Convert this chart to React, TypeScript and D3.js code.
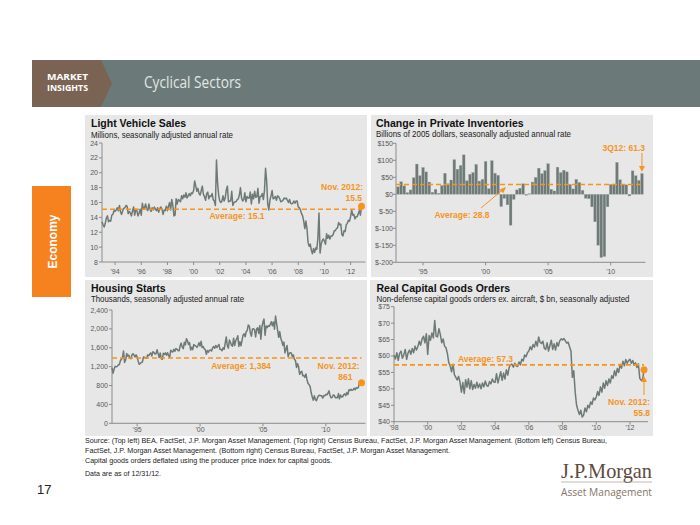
import React from "react";
import * as d3 from "d3";

// ---------- DATA ----------
// Light vehicle sales, millions SAAR, monthly Jan 1993 – Nov 2012
const vehicleSales: number[] = [
  13.4, 13.0, 12.7, 13.2, 13.9, 14.2, 13.4, 13.6, 13.5, 14.3, 14.4, 14.9,
  14.8, 15.0, 15.3, 14.9, 15.6, 14.7, 14.4, 14.9, 15.2, 15.3, 15.6, 15.5,
  14.5, 14.8, 14.6, 14.2, 14.9, 15.4, 14.3, 15.1, 14.9, 14.2, 14.6, 15.1,
  14.3, 15.9, 15.1, 15.3, 15.8, 15.1, 14.9, 15.8, 15.1, 14.8, 15.3, 15.0,
  15.4, 15.1, 14.9, 15.3, 14.7, 15.2, 15.4, 15.1, 14.4, 15.0, 14.9, 15.5,
  14.9, 15.5, 16.0, 15.0, 16.4, 15.6, 14.2, 14.3, 16.5, 15.8, 16.4, 16.3,
  16.1, 16.9, 16.5, 17.0, 16.7, 17.3, 16.6, 16.9, 17.2, 16.9, 17.3, 17.2,
  17.6, 18.9, 18.2, 17.5, 17.9, 17.2, 17.0, 17.6, 18.2, 17.1, 16.8, 16.3,
  17.2, 17.4, 16.5, 16.9, 16.8, 17.2, 16.4, 16.2, 15.6, 21.7, 18.6, 17.0,
  16.2, 16.0, 16.2, 16.9, 16.2, 16.6, 17.7, 18.2, 16.1, 16.2, 16.2, 17.5,
  15.6, 16.0, 16.1, 16.1, 16.4, 16.5, 17.0, 18.0, 16.6, 16.2, 16.4, 17.3,
  16.1, 16.8, 16.6, 16.6, 17.4, 15.8, 17.1, 16.5, 17.5, 16.7, 16.8, 17.9,
  15.9, 16.8, 16.8, 17.2, 16.4, 17.6, 20.6, 18.9, 15.8, 15.0, 16.3, 16.9,
  17.6, 16.5, 16.6, 16.8, 16.3, 16.9, 16.8, 16.5, 16.1, 16.2, 16.3, 16.6,
  16.5, 16.6, 16.3, 16.0, 16.4, 15.9, 15.8, 15.9, 16.2, 15.9, 16.2, 16.2,
  15.4, 15.3, 15.0, 14.5, 14.2, 13.5, 12.5, 13.5, 12.5, 10.6, 10.1, 10.4,
  9.6, 9.1, 9.8, 9.3, 9.9, 9.7, 11.2, 14.6, 9.2, 10.4, 10.9, 11.1,
  10.8, 10.4, 11.8, 11.2, 11.6, 11.1, 11.5, 11.5, 11.7, 12.2, 12.2, 12.5,
  12.6, 13.3, 13.0, 13.1, 11.7, 11.5, 12.2, 12.1, 13.0, 13.2, 13.6, 13.5,
  14.1, 15.0, 14.3, 14.4, 13.8, 14.1, 14.1, 14.5, 14.9, 14.3, 15.5,
];
const vehicleAvg = 15.1;
const vehicleYTicks = [8, 10, 12, 14, 16, 18, 20, 22, 24];
const vehicleXTicks = [1994, 1996, 1998, 2000, 2002, 2004, 2006, 2008, 2010, 2012];

// Change in private inventories, $bn 2005, quarterly 1Q93 – 3Q12
const inventories: number[] = [
  22, 37, 25, 5, 13, 49, 89, 55, 79, 66, 36, 6, 15, 3, 26, 62, 31, 42, 102, 74,
  85, 116, 40, 59, 64, 88, 39, 44, 97, 17, 99, 62, 56, -36, -12, -31, -91, -15, 13, 18,
  31, -3, 2, 36, 50, 77, 61, 70, 90, 15, 10, 80, 64, 71, 66, 29, 16, 44, 35, 12,
  -12, -13, -37, -81, -150, -186, -183, -37, 29, 30, 94, 43, 28, 28, -5, 69, 55, 41, 61.3,
];
const inventoryAvg = 28.8;
const inventoryYTicks = [-200, -150, -100, -50, 0, 50, 100, 150];
const inventoryXTicks = [1995, 2000, 2005, 2010];

// Housing starts, thousands SAAR, monthly Jan 1993 – Nov 2012
const housingStarts: number[] = [
  1177, 1060, 1146, 1206, 1196, 1206, 1235, 1245, 1326, 1356, 1384, 1532,
  1290, 1340, 1478, 1423, 1448, 1385, 1368, 1447, 1474, 1446, 1405, 1451,
  1407, 1316, 1249, 1267, 1290, 1299, 1402, 1400, 1384, 1376, 1450, 1431,
  1467, 1491, 1424, 1516, 1504, 1467, 1472, 1557, 1475, 1392, 1489, 1370,
  1355, 1486, 1457, 1492, 1442, 1494, 1437, 1390, 1546, 1520, 1510, 1566,
  1525, 1584, 1567, 1540, 1536, 1641, 1698, 1614, 1582, 1715, 1660, 1792,
  1748, 1670, 1710, 1553, 1611, 1559, 1669, 1648, 1635, 1608, 1648, 1708,
  1636, 1737, 1604, 1626, 1575, 1559, 1463, 1541, 1507, 1549, 1551, 1532,
  1600, 1625, 1590, 1649, 1605, 1636, 1670, 1567, 1562, 1540, 1602, 1568,
  1698, 1829, 1642, 1592, 1764, 1717, 1655, 1633, 1804, 1648, 1753, 1788,
  1853, 1629, 1726, 1643, 1751, 1867, 1897, 1833, 1939, 1967, 2083, 2057,
  1911, 1846, 1998, 2003, 1981, 1828, 2002, 2024, 1905, 2072, 1782, 2042,
  2144, 2207, 1864, 2061, 2025, 2068, 2054, 2095, 2151, 2065, 2147, 1994,
  2273, 2119, 1969, 1821, 1942, 1802, 1737, 1650, 1720, 1491, 1570, 1649,
  1409, 1480, 1495, 1490, 1415, 1448, 1354, 1330, 1183, 1264, 1197, 1037,
  1084, 1103, 1005, 1013, 973, 1046, 923, 844, 820, 777, 652, 560,
  490, 582, 505, 478, 540, 585, 594, 586, 585, 534, 588, 581,
  614, 604, 636, 687, 588, 539, 546, 599, 594, 543, 545, 539,
  630, 517, 600, 554, 561, 608, 623, 585, 650, 610, 711, 694,
  720, 698, 707, 744, 711, 754, 741, 758, 854, 864, 861,
];
const housingAvg = 1384;
const housingYTicks = [0, 400, 800, 1200, 1600, 2000, 2400];
const housingXTicks = [1995, 2000, 2005, 2010];

// Real capital goods orders, $bn, monthly Jan 1998 – Nov 2012
const capitalGoods: number[] = [
  60.2, 59.1, 61.0, 58.7, 60.8, 61.5, 59.3, 60.4, 62.0, 59.0, 60.9, 61.8,
  60.5, 62.3, 61.0, 63.0, 61.8, 62.9, 64.5, 63.3, 65.2, 66.0, 64.0, 66.8,
  60.5, 66.2, 64.8, 67.0, 65.5, 70.8, 66.0, 65.8, 68.3, 66.5, 64.0, 65.2,
  63.0, 62.5, 60.8, 58.0, 57.0, 55.2, 57.5, 54.3, 53.5, 52.7, 53.8, 52.0,
  49.0, 51.9, 48.6, 52.8, 50.5, 53.1, 50.0, 52.5, 49.8, 51.3, 50.2, 52.0,
  50.3, 51.5, 50.0, 51.8, 50.6, 52.4, 51.0, 50.8, 52.2, 51.5, 53.0, 52.1,
  52.0, 54.6, 51.8, 53.5, 55.2, 52.6, 54.8, 53.0, 55.8, 54.2, 56.5, 57.4,
  57.5, 56.6, 57.8, 57.0, 56.8, 58.2, 57.3, 59.0, 58.5, 60.3, 59.8, 61.0,
  61.5, 62.8, 61.9, 63.5, 62.7, 64.5, 63.0, 65.8, 64.2, 63.8, 64.5, 62.4,
  62.0, 64.0, 61.5, 63.2, 64.8, 62.0, 63.7, 61.8, 64.1, 63.0, 64.6, 65.2,
  64.9, 65.3, 64.6, 63.9, 64.2, 62.8, 61.5, 53.5, 55.5, 49.0, 45.0, 43.5,
  42.2, 43.5, 41.4, 42.0, 44.2, 43.0, 45.0, 44.2, 46.0, 45.3, 47.2, 46.6,
  47.5, 49.2, 48.0, 50.6, 49.0, 51.8, 50.2, 52.5, 51.0, 53.0, 51.8, 54.0,
  53.2, 55.5, 54.0, 56.2, 55.0, 57.5, 56.3, 58.4, 57.0, 58.9, 57.8, 58.6,
  59.0, 57.8, 58.6, 57.2, 57.9, 56.5, 57.6, 53.2, 52.6, 52.8, 55.8,
];
const capitalAvg = 57.3;
const capitalYTicks = [40, 45, 50, 55, 60, 65, 70, 75];
const capitalXTicks = [1998, 2000, 2002, 2004, 2006, 2008, 2010, 2012];

const sourceLines = [
  "Source: (Top left) BEA, FactSet, J.P. Morgan Asset Management. (Top right) Census Bureau, FactSet, J.P. Morgan Asset Management. (Bottom left) Census Bureau,",
  "FactSet, J.P. Morgan Asset Management. (Bottom right) Census Bureau, FactSet, J.P. Morgan Asset Management.",
  "Capital goods orders deflated using the producer price index for capital goods.",
];

// ---------- STYLE ----------
const FONT = "'Liberation Sans', Arial, Helvetica, sans-serif";
const ORANGE = "#f7941d";
const LINE = "#6e7a77";
const PANEL = "#e6e7e6";
const AXIS = "#8c8c8c";
const TICKTXT = "#5a5a5a";

const yr2 = (y: number) => "'" + String(y).slice(2);

type LineProps = {
  data: number[];
  startYear: number;
  x0: number;
  x1: number;
  yTop: number;
  yBot: number;
  yDomain: [number, number];
  yTicks: number[];
  yFmt: (v: number) => string;
  xTicks: number[];
  xLabelY: number;
  avg: number;
};

function LineChart(p: LineProps) {
  const endYear = p.startYear + (p.data.length - 1) / 12;
  const x = d3.scaleLinear().domain([p.startYear, endYear]).range([p.x0, p.x1]);
  const y = d3.scaleLinear().domain(p.yDomain).range([p.yBot, p.yTop]);
  const line = d3
    .line<number>()
    .x((_, i) => x(p.startYear + i / 12))
    .y((d) => y(d));
  const last = p.data[p.data.length - 1];
  return (
    <g>
      <line x1={p.x0} x2={p.x0} y1={p.yTop} y2={p.yBot} stroke={AXIS} strokeWidth={1} />
      <line x1={p.x0} x2={p.x1 + 4} y1={p.yBot} y2={p.yBot} stroke={AXIS} strokeWidth={1} />
      {p.yTicks.map((t) => (
        <g key={"y" + t}>
          <line x1={p.x0 - 3} x2={p.x0} y1={y(t)} y2={y(t)} stroke={AXIS} />
          <text x={p.x0 - 4} y={y(t) + 2.5} fontSize={7} fill={TICKTXT} textAnchor="end" fontFamily={FONT}>
            {p.yFmt(t)}
          </text>
        </g>
      ))}
      {p.xTicks.map((t) => (
        <g key={"x" + t}>
          <line x1={x(t)} x2={x(t)} y1={p.yBot} y2={p.yBot + 3} stroke={AXIS} />
          <text x={x(t)} y={p.xLabelY} fontSize={7} fill={TICKTXT} textAnchor="middle" fontFamily={FONT}>
            {yr2(t)}
          </text>
        </g>
      ))}
      <path d={line(p.data) || ""} fill="none" stroke={LINE} strokeWidth={1.5} strokeLinejoin="round" />
      <line
        x1={p.x0}
        x2={p.x1}
        y1={y(p.avg)}
        y2={y(p.avg)}
        stroke={ORANGE}
        strokeWidth={1.6}
        strokeDasharray="5,3"
      />
      <circle cx={x(endYear)} cy={y(last)} r={3.5} fill={ORANGE} />
    </g>
  );
}

function InventoryChart() {
  const x0 = 396,
    x1 = 643.5,
    yTop = 143.3,
    yBot = 262.3;
  const quarters = inventories.map((_, i) => 1993 + i / 4);
  const x = d3.scaleBand<number>().domain(quarters).range([x0 + 0.5, x1]).paddingInner(0.12).paddingOuter(0.05);
  const y = d3.scaleLinear().domain([-200, 150]).range([yBot, yTop]);
  const lastQ = quarters[quarters.length - 1];
  const lastX = (x(lastQ) as number) + x.bandwidth() / 2;
  return (
    <g>
      {inventories.map((v, i) => {
        const q = quarters[i];
        return (
          <rect
            key={i}
            x={x(q)}
            width={x.bandwidth()}
            y={Math.min(y(v), y(0))}
            height={Math.abs(y(v) - y(0))}
            fill={LINE}
            stroke="#a9b0ad"
            strokeWidth={0.3}
          />
        );
      })}
      <line x1={x0} x2={x0} y1={yTop} y2={yBot} stroke={AXIS} />
      <line x1={x0} x2={x1 + 2} y1={yBot} y2={yBot} stroke={AXIS} />
      {inventoryYTicks.map((t) => (
        <g key={"y" + t}>
          <line x1={x0 - 3} x2={x0} y1={y(t)} y2={y(t)} stroke={AXIS} />
          <text x={x0 - 3} y={y(t) + 2.5} fontSize={7} fill={TICKTXT} textAnchor="end" fontFamily={FONT}>
            {"$" + t}
          </text>
        </g>
      ))}
      {inventoryXTicks.map((t) => {
        const cx = (x(t) as number) + x.bandwidth() / 2;
        return (
          <g key={"x" + t}>
            <line x1={cx} x2={cx} y1={yBot} y2={yBot + 3} stroke={AXIS} />
            <text x={cx} y={273.5} fontSize={7} fill={TICKTXT} textAnchor="middle" fontFamily={FONT}>
              {yr2(t)}
            </text>
          </g>
        );
      })}
      <line
        x1={x0}
        x2={x1}
        y1={y(inventoryAvg)}
        y2={y(inventoryAvg)}
        stroke={ORANGE}
        strokeWidth={1.6}
        strokeDasharray="5,3"
      />
      {/* average annotation */}
      <text x={462} y={218} fontSize={8.5} fontWeight="bold" fill={ORANGE} textAnchor="middle" fontFamily={FONT}>
        Average: 28.8
      </text>
      <line x1={481} y1={208} x2={503} y2={189.5} stroke={ORANGE} strokeWidth={1} />
      <path d="M506,187 L499.5,189.4 L503.3,193.3 Z" fill={ORANGE} />
      {/* latest annotation */}
      <text x={645} y={150.5} fontSize={8.5} fontWeight="bold" fill={ORANGE} textAnchor="end" fontFamily={FONT}>
        3Q12: 61.3
      </text>
      <line x1={lastX} x2={lastX} y1={153} y2={167} stroke={ORANGE} strokeWidth={1} />
      <path d={`M${lastX - 3},166 L${lastX + 3},166 L${lastX},172 Z`} fill={ORANGE} />
    </g>
  );
}

function Title({ x, y, title, sub, subLen }: { x: number; y: number; title: string; sub: string; subLen: number }) {
  return (
    <g fontFamily={FONT}>
      <text x={x} y={y} fontSize={10.5} fontWeight="bold" fill="#111">
        {title}
      </text>
      <text x={x} y={y + 10.5} fontSize={9} fill="#222" textLength={subLen} lengthAdjust="spacingAndGlyphs">
        {sub}
      </text>
    </g>
  );
}

function Ann({ x, y, text, anchor }: { x: number; y: number; text: string; anchor: "start" | "middle" | "end" }) {
  return (
    <text x={x} y={y} fontSize={8.5} fontWeight="bold" fill={ORANGE} textAnchor={anchor} fontFamily={FONT}>
      {text}
    </text>
  );
}

export default function App() {
  const fmtComma = d3.format(",");
  return (
    <svg
      width={700}
      height={525}
      viewBox="0 0 700 525"
      style={{ position: "absolute", left: 0, top: 0, display: "block", background: "#fff" }}
    >
      <rect x={0} y={0} width={700} height={525} fill="#fff" />
      {/* header band */}
      <rect x={32} y={60} width={668} height={47} fill="#6b7a78" />
      <polygon points="32,60 101,60 112,83.5 101,107 32,107" fill="#7a6353" />
      <text x={47} y={79.5} fontSize={8} fontWeight="bold" fill="#fff" fontFamily="'Open Sans', sans-serif" textLength={41} lengthAdjust="spacingAndGlyphs">
        MARKET
      </text>
      <text x={47} y={91} fontSize={8} fontWeight="bold" fill="#fff" fontFamily="'Open Sans', sans-serif" textLength={41} lengthAdjust="spacingAndGlyphs">
        INSIGHTS
      </text>
      <text x={144} y={88} fontSize={15.5} fill="#e2e6e5" fontFamily="'Open Sans', sans-serif" textLength={97} lengthAdjust="spacingAndGlyphs">
        Cyclical Sectors
      </text>

      {/* Economy tab */}
      <rect x={32} y={186} width={39} height={111} fill="#f5821f" />
      <text
        transform="translate(56.5,241.5) rotate(-90)"
        fontSize={12}
        fontWeight="bold"
        fill="#fff"
        textAnchor="middle"
        fontFamily={FONT}
      >
        Economy
      </text>

      {/* panels */}
      <rect x={85} y={115} width={282} height={162} fill={PANEL} />
      <rect x={371} y={115} width={282} height={162} fill={PANEL} />
      <rect x={85} y={280} width={282} height={156} fill={PANEL} />
      <rect x={370} y={280} width={283} height={156} fill={PANEL} />

      {/* Light vehicle sales */}
      <Title x={91} y={127} title="Light Vehicle Sales" sub="Millions, seasonally adjusted annual rate" subLen={142} />
      <LineChart
        data={vehicleSales}
        startYear={1993}
        x0={102}
        x1={361.5}
        yTop={143}
        yBot={262}
        yDomain={[8, 24]}
        yTicks={vehicleYTicks}
        yFmt={(v) => String(v)}
        xTicks={vehicleXTicks}
        xLabelY={273.5}
        avg={vehicleAvg}
      />
      <Ann x={237} y={219} text="Average: 15.1" anchor="middle" />
      <Ann x={363} y={190} text="Nov. 2012:" anchor="end" />
      <Ann x={362} y={201} text="15.5" anchor="end" />

      {/* Inventories */}
      <Title
        x={376}
        y={126.5}
        title="Change in Private Inventories"
        sub="Billions of 2005 dollars, seasonally adjusted annual rate"
        subLen={195}
      />
      <InventoryChart />

      {/* Housing starts */}
      <Title x={91} y={291.5} title="Housing Starts" sub="Thousands, seasonally adjusted annual rate" subLen={153} />
      <LineChart
        data={housingStarts}
        startYear={1993}
        x0={112}
        x1={361.5}
        yTop={310}
        yBot={423.3}
        yDomain={[0, 2400]}
        yTicks={housingYTicks}
        yFmt={(v) => fmtComma(v)}
        xTicks={housingXTicks}
        xLabelY={432}
        avg={housingAvg}
      />
      <Ann x={241} y={369} text="Average: 1,384" anchor="middle" />
      <Ann x={359.5} y={369} text="Nov. 2012:" anchor="end" />
      <Ann x={352.5} y={379.5} text="861" anchor="end" />

      {/* Capital goods orders */}
      <Title
        x={376.5}
        y={291.5}
        title="Real Capital Goods Orders"
        sub="Non-defense capital goods orders ex. aircraft, $ bn, seasonally adjusted"
        subLen={253}
      />
      <LineChart
        data={capitalGoods}
        startYear={1998}
        x0={394}
        x1={644}
        yTop={306.7}
        yBot={421.7}
        yDomain={[40, 75]}
        yTicks={capitalYTicks}
        yFmt={(v) => "$" + v}
        xTicks={capitalXTicks}
        xLabelY={429.5}
        avg={capitalAvg}
      />
      <Ann x={485.5} y={361.5} text="Average: 57.3" anchor="middle" />
      <Ann x={650} y={404.7} text="Nov. 2012:" anchor="end" />
      <Ann x={650} y={415.5} text="55.8" anchor="end" />
      <line x1={644} x2={644} y1={395} y2={381} stroke={ORANGE} strokeWidth={1} />
      <path d="M641,382 L647,382 L644,376 Z" fill={ORANGE} />

      {/* footer */}
      <g fontFamily={FONT} fill="#222" fontSize={7.5}>
        <text x={85} y={443} textLength={522} lengthAdjust="spacingAndGlyphs">
          {sourceLines[0]}
        </text>
        <text x={85} y={453} textLength={365} lengthAdjust="spacingAndGlyphs">
          {sourceLines[1]}
        </text>
        <text x={85} y={463} textLength={247} lengthAdjust="spacingAndGlyphs">
          {sourceLines[2]}
        </text>
        <text x={85} y={476} textLength={76} lengthAdjust="spacingAndGlyphs">
          Data are as of 12/31/12.
        </text>
      </g>
      <text x={37} y={494} fontSize={13} fill="#222" fontFamily={FONT}>
        17
      </text>
      <text
        x={561}
        y={478}
        fontSize={21}
        fill="#5e4a3b"
        fontFamily="'Liberation Serif', 'DejaVu Serif', serif"
        textLength={91}
        lengthAdjust="spacingAndGlyphs"
      >
        J.P.Morgan
      </text>
      <line x1={561} x2={652} y1={482} y2={482} stroke="#a99c90" strokeWidth={0.7} />
      <text
        x={561}
        y={496}
        fontSize={11}
        fill="#857466"
        fontFamily="'Open Sans', sans-serif"
        textLength={91}
        lengthAdjust="spacingAndGlyphs"
      >
        Asset Management
      </text>
    </svg>
  );
}
